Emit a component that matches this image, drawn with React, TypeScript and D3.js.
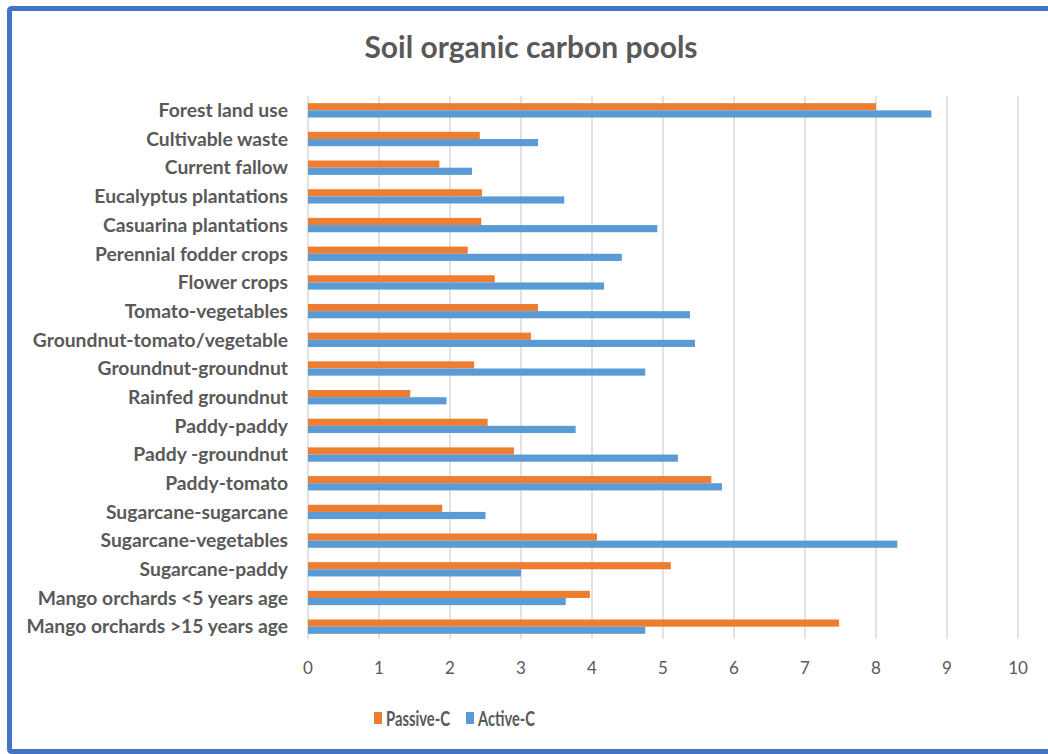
import * as d3 from 'd3';
import React from 'react';

const categories = [
  'Forest land use',
  'Cultivable waste',
  'Current fallow',
  'Eucalyptus plantations',
  'Casuarina plantations',
  'Perennial fodder crops',
  'Flower crops',
  'Tomato-vegetables',
  'Groundnut-tomato/vegetable',
  'Groundnut-groundnut',
  'Rainfed groundnut',
  'Paddy-paddy',
  'Paddy -groundnut',
  'Paddy-tomato',
  'Sugarcane-sugarcane',
  'Sugarcane-vegetables',
  'Sugarcane-paddy',
  'Mango orchards <5 years age',
  'Mango orchards >15 years age',
];

const passiveC = [8.0, 2.42, 1.85, 2.45, 2.44, 2.25, 2.63, 3.24, 3.14, 2.34, 1.44, 2.53, 2.9, 5.68, 1.89, 4.07, 5.11, 3.97, 7.48];
const activeC = [8.78, 3.24, 2.31, 3.61, 4.92, 4.42, 4.17, 5.38, 5.45, 4.75, 1.95, 3.77, 5.21, 5.83, 2.5, 8.3, 3.0, 3.63, 4.75];

const xTicks = [0, 1, 2, 3, 4, 5, 6, 7, 8, 9, 10];

const seriesNames = ['Passive-C', 'Active-C'];
const colors = ['#ED7D31', '#5B9BD5'];

export default function App() {
  const width = 1048;
  const height = 754;
  const left = 308;
  const right = 1018;
  const top = 96;
  const bottom = 641;

  const x = d3.scaleLinear().domain([0, 10]).range([left, right]);
  const y = d3.scaleBand().domain(categories).range([top, bottom]).paddingInner(0.5).paddingOuter(0.25);
  const inner = d3.scaleBand().domain(seriesNames).range([0, y.bandwidth()]);

  const font = 'Lato, "Noto Sans", sans-serif';
  const textColor = '#595959';

  // legend positions and text widths
  const legendX = [374, 466];
  const legendW = [64, 57];

  return (
    <svg width={width} height={height} style={{ position: 'absolute', left: 0, top: 0, background: '#fff' }}>
      <rect x={9.5} y={8.5} width={1100} height={743} fill="#fff" stroke="#4472C4" strokeWidth={5} rx={2} />
      <text x={531} y={58} textAnchor="middle" fontFamily={font} fontWeight="bold" fontSize={30} fill={textColor}>
        Soil organic carbon pools
      </text>

      {xTicks.map((t) => (
        <g key={t}>
          <line x1={x(t)} x2={x(t)} y1={top} y2={bottom - 2} stroke="#D9D9D9" strokeWidth={1.5} />
          <text x={x(t)} y={674} textAnchor="middle" fontFamily={font} fontSize={17} fill={textColor}>
            {t}
          </text>
        </g>
      ))}

      {categories.map((c, i) => (
        <g key={c}>
          <text
            x={288}
            y={(y(c) as number) + y.bandwidth() / 2}
            dy="0.35em"
            textAnchor="end"
            fontFamily={font}
            fontWeight="bold"
            fontSize={19.3}
            fill={textColor}
          >
            {c}
          </text>
          {[passiveC[i], activeC[i]].map((v, s) => (
            <rect
              key={s}
              x={x(0)}
              y={(y(c) as number) + (inner(seriesNames[s]) as number)}
              width={x(v) - x(0)}
              height={inner.bandwidth()}
              fill={colors[s]}
            />
          ))}
        </g>
      ))}

      {seriesNames.map((n, s) => (
        <g key={n}>
          <rect x={legendX[s]} y={712} width={8} height={12} fill={colors[s]} />
          <text
            x={legendX[s] + 12}
            y={718}
            dy="0.36em"
            fontFamily={font}
            fontWeight="bold"
            fontSize={21}
            textLength={legendW[s]}
            lengthAdjust="spacingAndGlyphs"
            fill={textColor}
          >
            {n}
          </text>
        </g>
      ))}
    </svg>
  );
}
